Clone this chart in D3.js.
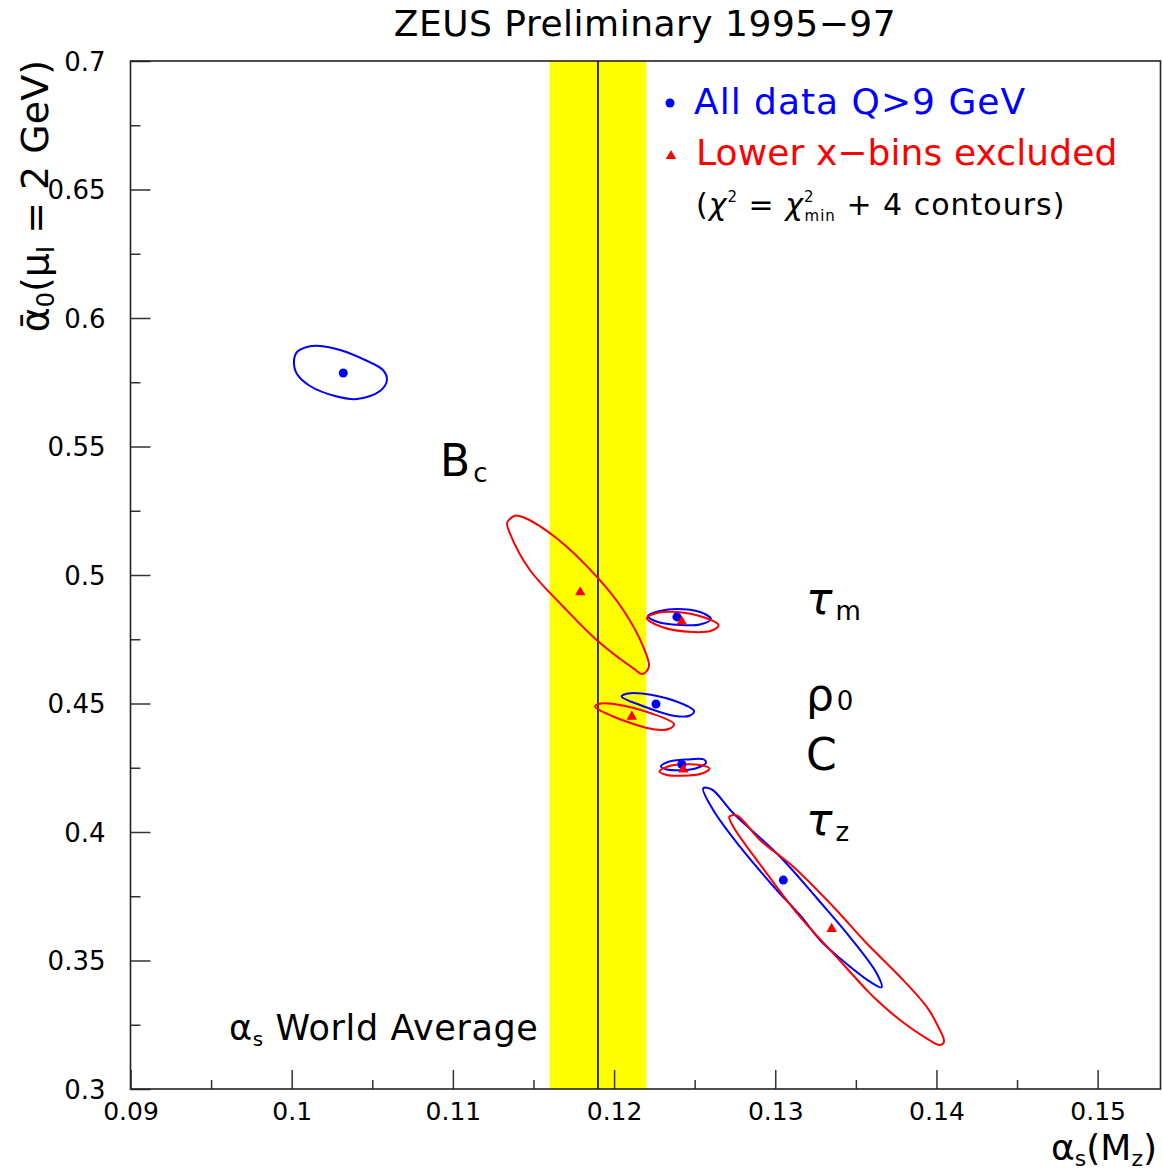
<!DOCTYPE html>
<html><head><meta charset="utf-8">
<script src="https://cdn.jsdelivr.net/npm/d3@7"></script>
<style>
body{margin:0;background:#fff}
text{font-family:"DejaVu Sans",sans-serif}
</style>
</head><body>
<svg id="chart" width="1163" height="1174"></svg>
<script>
// ---------- data ----------
const xDomain = [0.09, 0.1539];
const yDomain = [0.3, 0.7];
const xMajorTicks = [0.09, 0.10, 0.11, 0.12, 0.13, 0.14, 0.15];
const xTickLabels = ["0.09", "0.1", "0.11", "0.12", "0.13", "0.14", "0.15"];
const xMinorTicks = [0.095, 0.105, 0.115, 0.125, 0.135, 0.145];
const yMajorTicks = [0.3, 0.35, 0.4, 0.45, 0.5, 0.55, 0.6, 0.65, 0.7];
const yTickLabels = ["0.3", "0.35", "0.4", "0.45", "0.5", "0.55", "0.6", "0.65", "0.7"];
const yMinorTicks = [0.325, 0.375, 0.425, 0.475, 0.525, 0.575, 0.625, 0.675];

const worldAverageBand = [0.1160, 0.1220];
const worldAverageValue = 0.1190;

const variables = ["Bc", "tau_m", "rho_0", "C", "tau_z"];
// All data Q>9 GeV (blue)
const allDataX = [0.1032, 0.1239, 0.1226, 0.1242, 0.1305];
const allDataY = [0.5786, 0.4837, 0.4498, 0.4263, 0.3813];
// Lower x-bins excluded (red)
const lowerX = [0.1179, 0.1242, 0.1211, 0.1243, 0.1335];
const lowerY = [0.4933, 0.4819, 0.4449, 0.4243, 0.3623];

const bcAllContour = [[0.10014,0.58288],[0.10033,0.58677],[0.10095,0.58872],[0.10176,0.58911],[0.10300,0.58755],[0.10455,0.58366],[0.10566,0.57977],[0.10591,0.57588],[0.10548,0.57160],[0.10405,0.56848],[0.10269,0.56965],[0.10114,0.57354],[0.10033,0.57821]];
const bcLowerContour = [[0.11337,0.52035],[0.11385,0.52307],[0.11437,0.52245],[0.11644,0.51428],[0.11892,0.49934],[0.12057,0.48638],[0.12181,0.47210],[0.12216,0.46432],[0.12177,0.46148],[0.12119,0.46370],[0.11892,0.47471],[0.11685,0.48767],[0.11478,0.50195],[0.11354,0.51623]];
const tauMAllContour = [[0.12210,0.48405],[0.12285,0.48599],[0.12390,0.48677],[0.12533,0.48560],[0.12601,0.48288],[0.12533,0.48074],[0.12409,0.48054],[0.12272,0.48171]];
const tauMLowerContour = [[0.12204,0.48327],[0.12266,0.48521],[0.12390,0.48560],[0.12551,0.48366],[0.12648,0.48054],[0.12607,0.47840],[0.12489,0.47782],[0.12297,0.47977]];
const rho0AllContour = [[0.12047,0.45272],[0.12086,0.45389],[0.12173,0.45389],[0.12378,0.45097],[0.12496,0.44708],[0.12471,0.44533],[0.12378,0.44514],[0.12161,0.44942]];
const rho0LowerContour = [[0.11882,0.44883],[0.11919,0.45000],[0.11999,0.44981],[0.12223,0.44630],[0.12372,0.44202],[0.12347,0.44027],[0.12254,0.43988],[0.11987,0.44514]];
const cAllContour = [[0.12291,0.42549],[0.12334,0.42724],[0.12452,0.42821],[0.12558,0.42821],[0.12570,0.42685],[0.12514,0.42490],[0.12440,0.42412],[0.12328,0.42432]];
const cLowerContour = [[0.12282,0.42354],[0.12334,0.42549],[0.12409,0.42626],[0.12533,0.42607],[0.12592,0.42471],[0.12545,0.42276],[0.12458,0.42198],[0.12328,0.42218]];
const tauZAllContour = [[0.12553,0.41700],[0.12607,0.41654],[0.12740,0.40728],[0.13030,0.39039],[0.13257,0.37432],[0.13463,0.35914],[0.13629,0.34502],[0.13660,0.33957],[0.13588,0.34175],[0.13401,0.35086],[0.13277,0.35798],[0.13153,0.36770],[0.13009,0.37743],[0.12781,0.39428],[0.12615,0.40856]];
const tauZLowerContour = [[0.12715,0.40595],[0.12762,0.40642],[0.12905,0.39689],[0.13112,0.38650],[0.13360,0.37093],[0.13567,0.35669],[0.13774,0.34370],[0.13939,0.33202],[0.14011,0.32424],[0.14047,0.31840],[0.14022,0.31712],[0.13939,0.31973],[0.13774,0.32685],[0.13608,0.33591],[0.13567,0.33852],[0.13360,0.35280],[0.13153,0.36704],[0.12947,0.38393],[0.12740,0.40206]];

const allContours = [bcAllContour, tauMAllContour, rho0AllContour, cAllContour, tauZAllContour];
const lowerContours = [bcLowerContour, tauMLowerContour, rho0LowerContour, cLowerContour, tauZLowerContour];

// variable labels
const labelMain = ["B", "τ", "ρ", "C", "τ"];
const labelSub = ["c", "m", "0", "", "z"];
const labelX = [0.1092, 0.1319, 0.1319, 0.1319, 0.1319];
const labelY = [0.5385, 0.4848, 0.4475, 0.4241, 0.3988];

// ---------- drawing ----------
const L = 130.5, R = 1160.5, T = 61, B = 1089;
const svg = d3.select("#chart");
const x = d3.scaleLinear().domain(xDomain).range([L, R]);
const y = d3.scaleLinear().domain(yDomain).range([B, T]);
const BLUE = "#0000ff", RED = "#ff0000";

// world average band
svg.append("rect")
  .attr("x", x(worldAverageBand[0])).attr("y", T)
  .attr("width", x(worldAverageBand[1]) - x(worldAverageBand[0]))
  .attr("height", B - T).attr("fill", "#ffff00");
svg.append("line")
  .attr("x1", x(worldAverageValue)).attr("x2", x(worldAverageValue))
  .attr("y1", T).attr("y2", B).attr("stroke", "#000").attr("stroke-width", 1.6);

// axes
const xAxis = d3.axisBottom(x).tickValues(xMajorTicks).tickSize(-19)
  .tickFormat((d, i) => xTickLabels[i]);
const xMinor = d3.axisBottom(x).tickValues(xMinorTicks).tickSize(-9).tickFormat("");
const yAxis = d3.axisLeft(y).tickValues(yMajorTicks).tickSize(-20)
  .tickFormat((d, i) => yTickLabels[i]);
const yMinor = d3.axisLeft(y).tickValues(yMinorTicks).tickSize(-10).tickFormat("");

function styleAxis(g) {
  g.select(".domain").remove();
  g.selectAll("line").attr("stroke", "#333").attr("stroke-width", 1.5);
  g.selectAll("text").attr("fill", "#000")
    .style("font-family", '"DejaVu Sans", sans-serif');
}
svg.append("g").attr("transform", `translate(0,${B})`).call(xAxis).call(styleAxis)
  .selectAll("text").attr("font-size", 25).attr("dy", 0).attr("y", 31);
svg.append("g").attr("transform", `translate(0,${B})`).call(xMinor).call(styleAxis);
svg.append("g").attr("transform", `translate(${L},0)`).call(yAxis).call(styleAxis)
  .selectAll("text").attr("font-size", 26).attr("x", -25).attr("dy", "0.35em");
svg.append("g").attr("transform", `translate(${L},0)`).call(yMinor).call(styleAxis);

// frame
svg.append("rect").attr("x", L).attr("y", T).attr("width", R - L).attr("height", B - T)
  .attr("fill", "none").attr("stroke", "#222").attr("stroke-width", 1.6);

// contours
const line = d3.line().x(d => x(d[0])).y(d => y(d[1])).curve(d3.curveCatmullRomClosed.alpha(0.5));
svg.append("g").selectAll("path").data(allContours).join("path")
  .attr("d", line).attr("fill", "none").attr("stroke", BLUE).attr("stroke-width", 2);
svg.append("g").selectAll("path").data(lowerContours).join("path")
  .attr("d", line).attr("fill", "none").attr("stroke", RED).attr("stroke-width", 2);

// markers
svg.append("g").selectAll("circle").data(variables).join("circle")
  .attr("cx", (d, i) => x(allDataX[i])).attr("cy", (d, i) => y(allDataY[i]))
  .attr("r", 4.5).attr("fill", BLUE);
const tri = d3.symbol(d3.symbolTriangle).size(48);
svg.append("g").selectAll("path").data(variables).join("path")
  .attr("d", tri).attr("fill", RED)
  .attr("transform", (d, i) => `translate(${x(lowerX[i])},${y(lowerY[i])})`);

// variable labels
variables.forEach((v, i) => {
  const t = svg.append("text").attr("x", x(labelX[i])).attr("y", y(labelY[i]))
    .attr("font-size", 44).attr("fill", "#000");
  const main = t.append("tspan").text(labelMain[i]);
  if (labelMain[i] === "τ") main.attr("font-style", "italic");
  if (labelSub[i]) t.append("tspan").attr("font-size", 26).attr("dx", 3)
    .attr("dy", labelSub[i] === "0" ? 0 : 6).text(labelSub[i]);
});

// world average label
const wa = svg.append("text").attr("x", 229).attr("y", 1040).attr("font-size", 35)
  .attr("letter-spacing", 0.6).attr("fill", "#000");
wa.append("tspan").text("α");
wa.append("tspan").attr("font-size", 20).attr("dy", 6).text("s");
wa.append("tspan").attr("dy", -6).text(" World Average");

// title
svg.append("text").attr("x", 645).attr("y", 36).attr("text-anchor", "middle")
  .attr("font-size", 36).attr("letter-spacing", 0.5).attr("fill", "#000").text("ZEUS Preliminary 1995−97");

// legend
svg.append("circle").attr("cx", 670).attr("cy", 103).attr("r", 4.5).attr("fill", BLUE);
svg.append("text").attr("x", 694).attr("y", 114).attr("font-size", 36).attr("letter-spacing", 1)
  .attr("fill", BLUE).text("All data Q>9 GeV");
svg.append("path").attr("d", tri).attr("fill", RED).attr("transform", "translate(671,156)");
svg.append("text").attr("x", 696).attr("y", 165).attr("font-size", 36).attr("letter-spacing", 0.1)
  .attr("fill", RED).text("Lower x−bins excluded");
const chi = svg.append("text").attr("x", 696).attr("y", 215).attr("font-size", 30)
  .attr("letter-spacing", 1).attr("fill", "#000");
chi.append("tspan").text("(");
chi.append("tspan").attr("font-style", "italic").text("χ");
chi.append("tspan").attr("font-size", 15).attr("dy", -13).text("2");
chi.append("tspan").attr("dy", 13).text(" = ");
chi.append("tspan").attr("font-style", "italic").text("χ");
chi.append("tspan").attr("font-size", 15).attr("dy", -13).text("2");
chi.append("tspan").attr("font-size", 15).attr("dx", -10).attr("dy", 19).text("min");
chi.append("tspan").attr("dy", -6).text(" + 4 contours)");

// axis titles
const xt = svg.append("text").attr("x", 1157).attr("y", 1160).attr("text-anchor", "end")
  .attr("font-size", 36).attr("fill", "#000");
xt.append("tspan").text("α");
xt.append("tspan").attr("font-size", 22).attr("dy", 6).text("s");
xt.append("tspan").attr("dy", -6).text("(M");
xt.append("tspan").attr("font-size", 22).attr("dy", 6).text("z");
xt.append("tspan").attr("dy", -6).text(")");

const yt = svg.append("text").attr("transform", "translate(48,60) rotate(-90)")
  .attr("text-anchor", "end").attr("font-size", 38).attr("fill", "#000");
yt.append("tspan").text("ᾱ");
yt.append("tspan").attr("font-size", 24).attr("dy", 6).text("0");
yt.append("tspan").attr("dy", -6).text("(μ");
yt.append("tspan").attr("font-size", 24).attr("dy", 6).text("I");
yt.append("tspan").attr("dy", -6).text(" = 2 GeV)");
</script>
</body></html>
